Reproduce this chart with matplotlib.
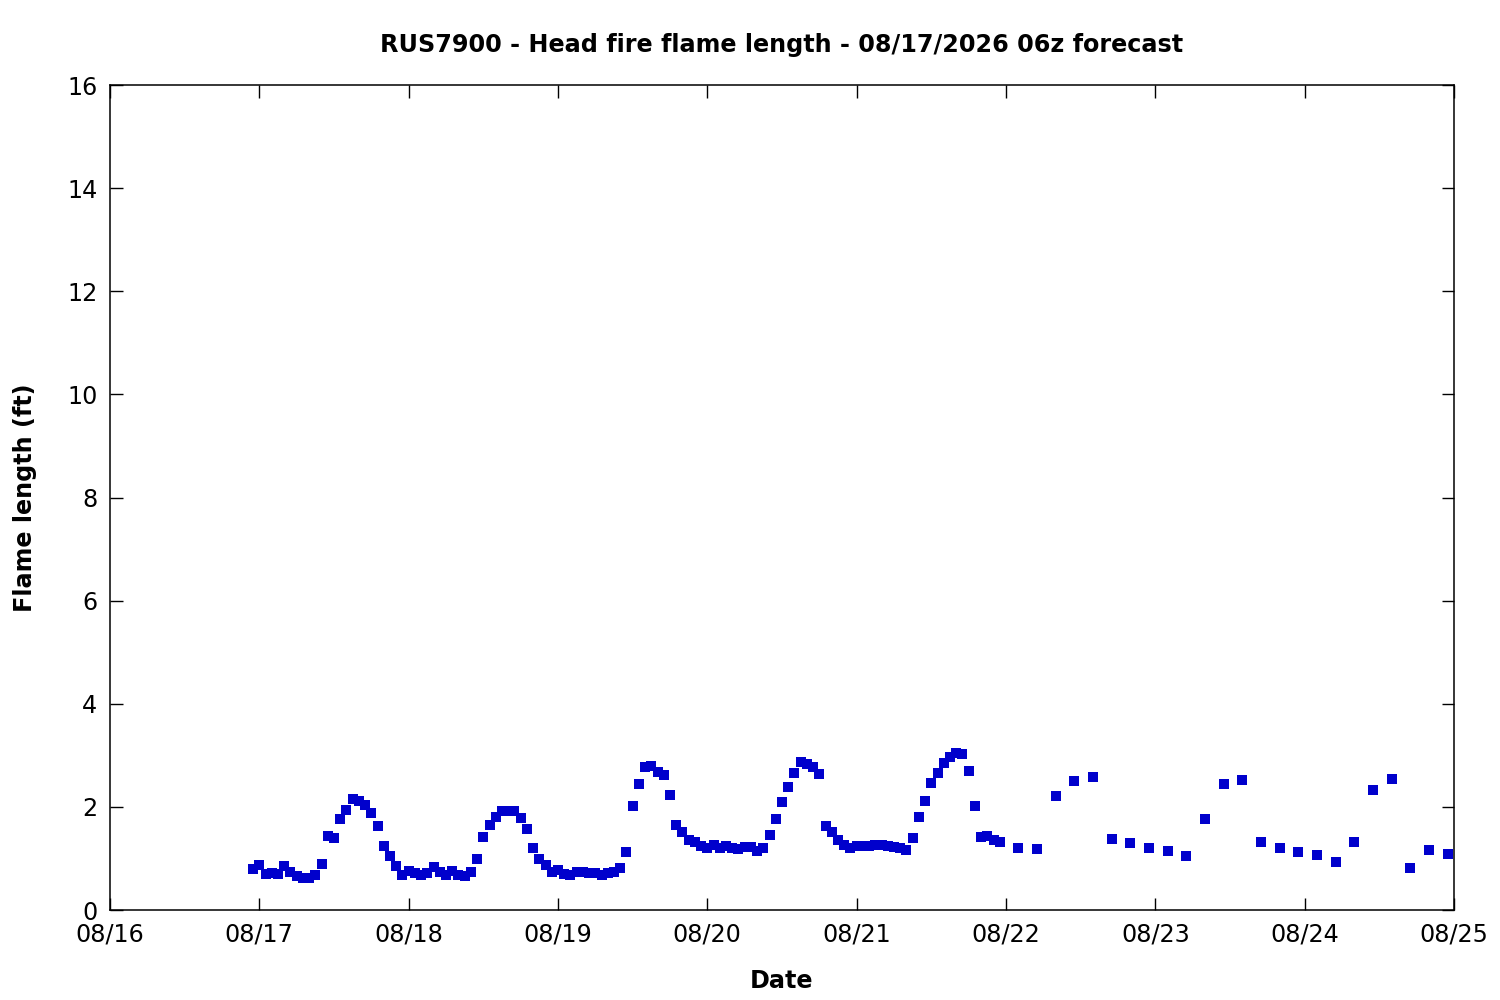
import numpy as np
import matplotlib
matplotlib.use("Agg")
import matplotlib.pyplot as plt
import matplotlib.dates as mdates
from datetime import datetime, timedelta

# hourly values, 08/16 23:00 through 08/21 23:00
hourly_ft = [
    0.79, 0.87, 0.69, 0.72, 0.69, 0.85, 0.73, 0.65, 0.63, 0.63,
    0.67, 0.89, 1.43, 1.39, 1.76, 1.93, 2.15, 2.11, 2.03, 1.89,
    1.62, 1.24, 1.04, 0.85, 0.67, 0.76, 0.71, 0.67, 0.71, 0.83,
    0.73, 0.67, 0.76, 0.68, 0.65, 0.73, 0.99, 1.41, 1.64, 1.80,
    1.92, 1.92, 1.92, 1.78, 1.58, 1.20, 0.98, 0.87, 0.73, 0.78,
    0.69, 0.67, 0.74, 0.73, 0.71, 0.71, 0.67, 0.71, 0.74, 0.81,
    1.12, 2.01, 2.44, 2.77, 2.80, 2.67, 2.61, 2.24, 1.64, 1.51,
    1.35, 1.31, 1.24, 1.20, 1.27, 1.21, 1.25, 1.21, 1.18, 1.23,
    1.23, 1.14, 1.20, 1.45, 1.76, 2.09, 2.38, 2.65, 2.88, 2.83,
    2.77, 2.63, 1.62, 1.51, 1.35, 1.27, 1.20, 1.24, 1.25, 1.25,
    1.27, 1.27, 1.25, 1.23, 1.21, 1.16, 1.39, 1.80, 2.11, 2.46,
    2.65, 2.86, 2.96, 3.04, 3.02, 2.69, 2.01, 1.41, 1.43, 1.35,
    1.31,
]
# 3-hourly values, 08/22 02:00 through 08/24 23:00
three_hourly_ft = [
    1.21, 1.18, 2.21, 2.50, 2.57, 1.37, 1.29, 1.21, 1.14, 1.04,
    1.76, 2.44, 2.52, 1.31, 1.21, 1.12, 1.06, 0.94, 1.31, 2.32,
    2.55, 0.81, 1.16, 1.08,
]

start = datetime(2026, 8, 16, 23)
times = [start + timedelta(hours=h) for h in range(len(hourly_ft))]
t3 = times[-1]
for k in range(len(three_hourly_ft)):
    times.append(t3 + timedelta(hours=3 * (k + 1)))
flame = hourly_ft + three_hourly_ft

fig = plt.figure(figsize=(15, 10), dpi=100)
ax = fig.add_axes([0.0733, 0.09, 0.896, 0.825])

ax.plot(times, flame, 's', color='#0000cc', markersize=6.5, markeredgewidth=0)

ax.set_xlim(datetime(2026, 8, 16), datetime(2026, 8, 25))
ax.set_ylim(0, 16)
ax.set_yticks(np.arange(0, 17, 2))
ax.xaxis.set_major_locator(mdates.DayLocator())
ax.xaxis.set_major_formatter(mdates.DateFormatter('%m/%d'))

ax.tick_params(direction='in', length=9, width=1, top=True, right=True,
               labelsize=17.2, pad=9)
for s in ax.spines.values():
    s.set_linewidth(1.1)

ax.set_title('RUS7900 - Head fire flame length - 08/17/2026 06z forecast',
             fontsize=17.2, fontweight='bold', pad=24)
ax.set_xlabel('Date', fontsize=17.2, fontweight='bold', labelpad=16)
ax.set_ylabel('Flame length (ft)', fontsize=17.2, fontweight='bold', labelpad=22)

fig.savefig('out.png', dpi=100)
